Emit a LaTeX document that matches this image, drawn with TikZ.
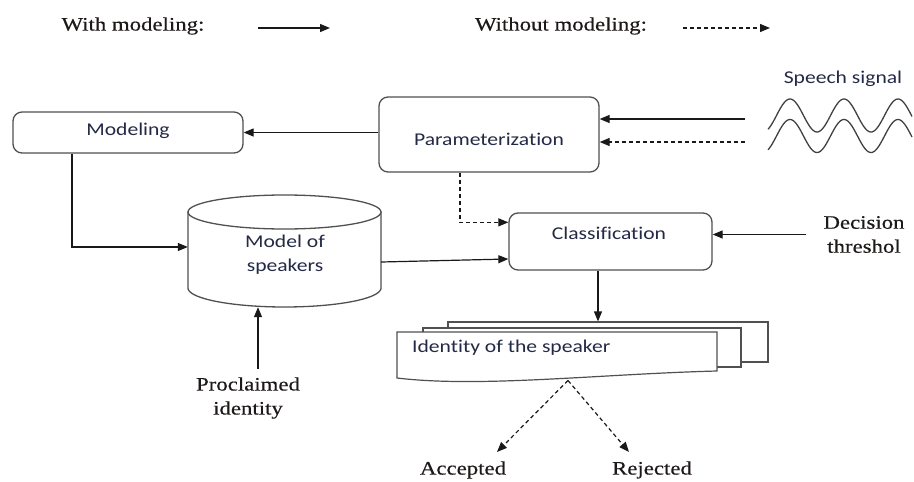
\documentclass[tikz,border=0pt]{standalone}
\usepackage{fontspec}
\usetikzlibrary{arrows.meta,calc}
\newfontfamily\boxfont[FakeStretch=1.2,Ligatures=NoCommon]{Carlito}
\newfontfamily\serfont[FakeStretch=1.2,FakeBold=0.4]{Liberation Serif}
\definecolor{boxtext}{RGB}{35,42,70}
\definecolor{labeltext}{RGB}{30,25,25}
\definecolor{edge}{RGB}{80,80,80}
\begin{document}
\begin{tikzpicture}[x=1pt,y=-1pt,
  blk/.style={draw=edge, line width=1.3pt, rounded corners=9pt, fill=white, inner sep=0pt},
  boxlbl/.style={font=\boxfont\fontsize{18}{24}\selectfont, text=boxtext, align=center, inner sep=0pt},
  lbl/.style={font=\serfont\fontsize{19}{24}\selectfont, text=labeltext, align=center, inner sep=0pt},
  conn/.style={line width=1.2pt, draw=black!90, -{Triangle[length=10pt,width=8pt]}},
  dconn/.style={conn, dash pattern=on 4pt off 3pt},
  sheet/.style={draw=edge, line width=1.2pt, fill=white}]
\useasboundingbox (0,0) rectangle (914,482);

% legend
\node[lbl] (leg1) at (133,26) {With modeling:};
\node[lbl] (leg2) at (561,26) {Without modeling:};
\coordinate (l1a) at (258,28); \coordinate (l1b) at (330,28);
\coordinate (l2a) at (683,28); \coordinate (l2b) at (770,28);
\draw[conn] (l1a) -- (l1b);
\draw[dconn] (l2a) -- (l2b);

% processing blocks
\node[blk, minimum width=230pt, minimum height=41pt] (model) at (128,132.5) {};
\node[boxlbl] at (128,131) {Modeling};
\node[blk, minimum width=220pt, minimum height=75pt] (param) at (489,134.5) {};
\node[boxlbl] at (489,139) {Parameterization};
\node[blk, minimum width=203pt, minimum height=57pt] (cls) at (610.5,241.5) {};
\node[boxlbl] at (609,233) {Classification};

% speaker model database (cylinder)
\node[minimum width=193pt, minimum height=112pt, inner sep=0pt] (db) at (284.5,251) {};
\draw[draw=edge, line width=1.3pt, fill=white] (188,212) -- (188,288)
  -- plot[domain=180:0, samples=60] ({284.5+96.5*cos(\x)},{288+19*sin(\x)})
  -- (381,212) -- cycle;
\draw[draw=edge, line width=1.3pt, fill=white] (284.5,212) ellipse [x radius=96.5, y radius=17];
\node[boxlbl] at (285,255) {Model of\\speakers};

% speech signal: two offset sine waves (period 54)
\node[boxlbl] (speech) at (843,79) {Speech signal};
\draw[draw=black!75, line width=1.3pt] plot[domain=-22:122, samples=120]
  ({\x+790}, {115.5-16.5*cos(6.6667*\x)});
\draw[draw=black!75, line width=1.3pt] plot[domain=-22:122, samples=120]
  ({\x+790}, {136-16.5*cos(6.6667*\x)});
\coordinate (sA) at (745,119);
\coordinate (sB) at (745,142);

% decision threshold and claimed identity
\node[lbl] (thr) at (864,234.5) {Decision\\threshol};
\node[lbl] (proc) at (248,398) {Proclaimed\\identity};
\coordinate (procTop) at (258,369);

% stacked output documents
\node[sheet, minimum width=320pt, minimum height=40pt, inner sep=0pt] (doc3) at (608,342) {};
\node[sheet, minimum width=318pt, minimum height=39pt, inner sep=0pt] (doc2) at (582,347.5) {};
\draw[sheet] (397,332) -- (717,332) -- (717,371)
  .. controls (600,374) and (480,388) .. (397,378) -- cycle;
\node[boxlbl, anchor=west] (doc1) at (412,348) {Identity of the speaker};
\coordinate (docbot) at (568,380.5);

% outcomes
\node[lbl] (acc) at (463,470) {Accepted};
\node[lbl] (rej) at (652,470) {Rejected};
\coordinate (accTip) at (497,452);
\coordinate (rejTip) at (629,452);

% connectors
\draw[conn] (sA) -- (sA -| param.east);
\draw[dconn] (sB) -- (sB -| param.east);
\draw[conn] (param.west |- model.east) -- (model.east);
\draw[conn] ([xshift=-56pt]model.south) |- ([yshift=4pt]db.west);
\draw[dconn] ([xshift=-29pt]param.south) |- ([yshift=-10pt]cls.north west);
\draw[conn] ([yshift=-11pt]db.east) -- ([yshift=-17.5pt]cls.west);
\draw[conn] ([xshift=-17pt]thr.west) -- (cls.east |- thr.west);
\draw[conn] (procTop) -- (procTop |- db.south);
\draw[conn] ([xshift=-12.5pt]cls.south) -- ([xshift=-10pt]doc3.north);
\draw[dconn] (docbot) -- (accTip);
\draw[dconn] (docbot) -- (rejTip);
\end{tikzpicture}
\end{document}
